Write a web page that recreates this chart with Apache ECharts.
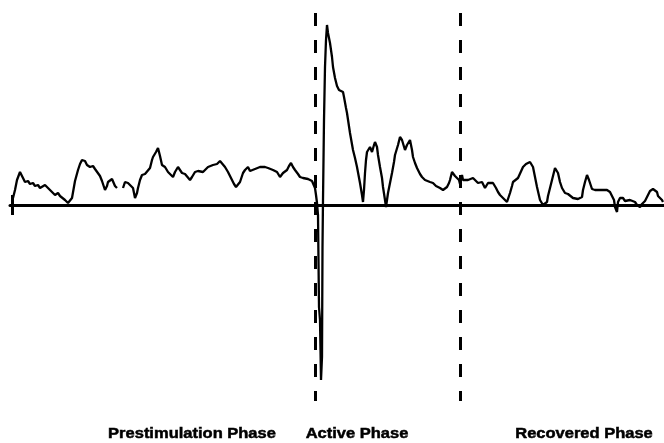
<!DOCTYPE html>
<html>
<head>
<meta charset="utf-8">
<script src="https://cdn.jsdelivr.net/npm/echarts@6/dist/echarts.min.js"></script>
<style>
  html, body { margin: 0; padding: 0; background: #fff; }
  #chart { width: 664px; height: 443px; }
</style>
</head>
<body>
<div id="chart"></div>
<script>
// Recorded trace: sample index and signal amplitude (baseline = 0)
const sampleIndex = [
  3, 5, 7, 10, 13, 15, 18, 20, 23, 25, 28, 30, 32, 35, 38, 40, 42, 45, 48, 50,
  52, 55, 58, 60, 62, 65, 68, 70, 72, 75, 77, 80, 83, 85, 87, 90, 92, 95, 97, 98,
  100, 102, 105, 107, 110, 113, 115, 118, 120, 123, 125, 127, 128, 130, 132, 135, 137, 140, 142, 143,
  146, 148, 150, 152, 155, 158, 160, 163, 165, 168, 170, 172, 175, 177, 180, 182, 185, 188, 190, 193,
  195, 198, 200, 203, 205, 207, 210, 212, 215, 218, 220, 222, 224, 226, 228, 230, 233, 235, 238, 240,
  242, 245, 247, 250, 252, 255, 258, 260, 263, 267, 270, 273, 275, 277, 279, 281, 283, 285, 288, 290,
  293, 295, 298, 300, 302, 303, 305, 306, 307, 308, 309, 310, 311, 312, 312.5, 313, 314, 315, 316, 317,
  318, 319, 320, 322, 323, 325, 327, 329, 331, 333, 334, 336, 337, 340, 343, 345, 347, 350, 352, 353,
  354, 355, 356, 357, 358, 360, 362, 364, 365, 367, 368, 370, 372, 373, 375, 376, 378, 380, 382, 384,
  385, 388, 390, 392, 395, 397, 400, 402, 403, 405, 407, 410, 412, 415, 417, 420, 423, 426, 428, 430,
  433, 435, 437, 439, 440, 442, 444, 445, 447, 449, 450, 452, 453, 455, 458, 460, 463, 465, 468, 470,
  472, 475, 478, 480, 483, 486, 488, 490, 493, 497, 500, 502, 503, 505, 508, 510, 513, 516, 520, 522,
  523, 525, 527, 530, 533, 535, 537, 538, 540, 542, 545, 546, 548, 550, 552, 555, 558, 560, 563, 565,
  568, 570, 572, 573, 575, 577, 579, 580, 582, 585, 587, 590, 593, 597, 600, 602, 604, 605, 607, 608,
  610, 612, 613, 615, 617, 620, 622, 625, 627, 628, 630, 632, 635, 637, 640, 643, 645, 647, 648, 650,
  652, 653
];
const signal = [
  7, 15, 25, 33, 27, 23, 24, 21, 22, 19, 20, 17, 19, 20, 17, 15, 13, 10, 12, 9,
  8, 5, 2, 1, 7, 24, 35, 41, 45, 44, 40, 38, 39, 36, 35, 29, 24, 15, 19, 23,
  25, 26, 19, 17, null, 17, 23, 22, 21, 17, 7, 12, 17, 25, 30, 31, 32, 37, 45, 48,
  53, 57, 49, 40, 38, 33, 31, 28, 33, 38, 35, 32, 31, 30, 25, 28, 33, 34, 35, 33,
  34, 38, 39, 40, 42, 41, 44, 43, 38, 33, 29, 25, 21, 18, 20, 23, 32, 35, 38, 34,
  33, 36, 37, 38, 40, 38, 37, 37, 35, 33, 28, 32, 34, 35, 39, 42, 38, 35, 31, 28,
  27, 25, 26, 27, 24, 22, 17, 10, 2, -10, -102, -115, -175, -152, -42, 5, 85, 138, 165, 180,
  172, 167, 162, 148, 138, 127, 119, 115, 115, 113, 108, 97, 92, 72, 55, 47, 38, 22, 10, 3,
  15, 32, 45, 53, 55, 58, 53, 60, 63, 58, 50, 38, 27, 18, 5, -2, 12, 22, 32, 43,
  50, 60, 68, 65, 55, 60, 65, 55, 48, 42, 37, 31, 28, 25, 23, 23, 22, 19, 20, 17,
  15, 16, 18, 22, 25, 33, 31, 29, 28, 25, 21, 30, 25, 25, 25, 27, 27, 26, 22, 24,
  23, 17, 22, 21, 22, 17, 13, 10, 7, 3, 12, 19, 23, 24, 27, 29, 38, 41, 43, 42,
  38, 28, 18, 5, 0, 1, 3, 9, 17, 25, 37, 35, 32, 23, 17, 12, 11, 10, 7, 7,
  6, 4, 8, 15, 23, 30, 25, 22, 16, 15, 14, 15, 15, 15, 13, 11, 5, -2, -7, 3,
  7, 8, 7, 4, 3, 5, 7, 3, 0, -2, -2, 1, 4, 6, 14, 16, 14, 13, 9, 9,
  5, 3
];

// Phase boundaries (sample index) and phase captions
const phaseBoundaries = [305, 450];
const phaseLabels = ['Prestimulation Phase', 'Active Phase', 'Recovered Phase'];

const traceData = sampleIndex.map((x, i) => [x, signal[i]]);

const chart = echarts.init(document.getElementById('chart'), null, { renderer: 'canvas' });

const boundaryLines = phaseBoundaries.map(x => [
  { coord: [x, 192], lineStyle: { type: [13, 14], width: 3, color: '#000' } },
  { coord: [x, -196] }
]);

// Horizontal centres of the phase captions (px)
const labelCenters = [192, 357, 584];

chart.setOption({
  animation: false,
  backgroundColor: '#ffffff',
  grid: { left: 10, right: 0, top: 5, bottom: 38 },
  xAxis: {
    type: 'value',
    min: 0,
    max: 654,
    axisLine: { onZero: true, lineStyle: { color: '#000', width: 3 } },
    axisTick: { show: false },
    axisLabel: { show: false },
    splitLine: { show: false }
  },
  yAxis: {
    type: 'value',
    min: -200,
    max: 200,
    axisLine: { show: false },
    axisTick: { show: false },
    axisLabel: { show: false },
    splitLine: { show: false }
  },
  series: [
    {
      type: 'line',
      data: traceData,
      showSymbol: false,
      connectNulls: false,
      lineStyle: { color: '#000', width: 2.3 },
      markLine: {
        silent: true,
        symbol: 'none',
        label: { show: false },
        data: [
          ...boundaryLines,
          [
            { coord: [2, 10], lineStyle: { type: 'solid', width: 3, color: '#000' } },
            { coord: [2, -10] }
          ]
        ]
      }
    }
  ],
  graphic: phaseLabels.map((t, i) => ({
    type: 'text',
    x: labelCenters[i],
    y: 434,
    scaleX: 1.1,
    style: {
      text: t,
      fill: '#000',
      stroke: '#000',
      lineWidth: 0.5,
      font: 'bold 15px "Liberation Sans", Arial, sans-serif',
      textAlign: 'center',
      textVerticalAlign: 'middle'
    }
  }))
});
</script>
</body>
</html>
